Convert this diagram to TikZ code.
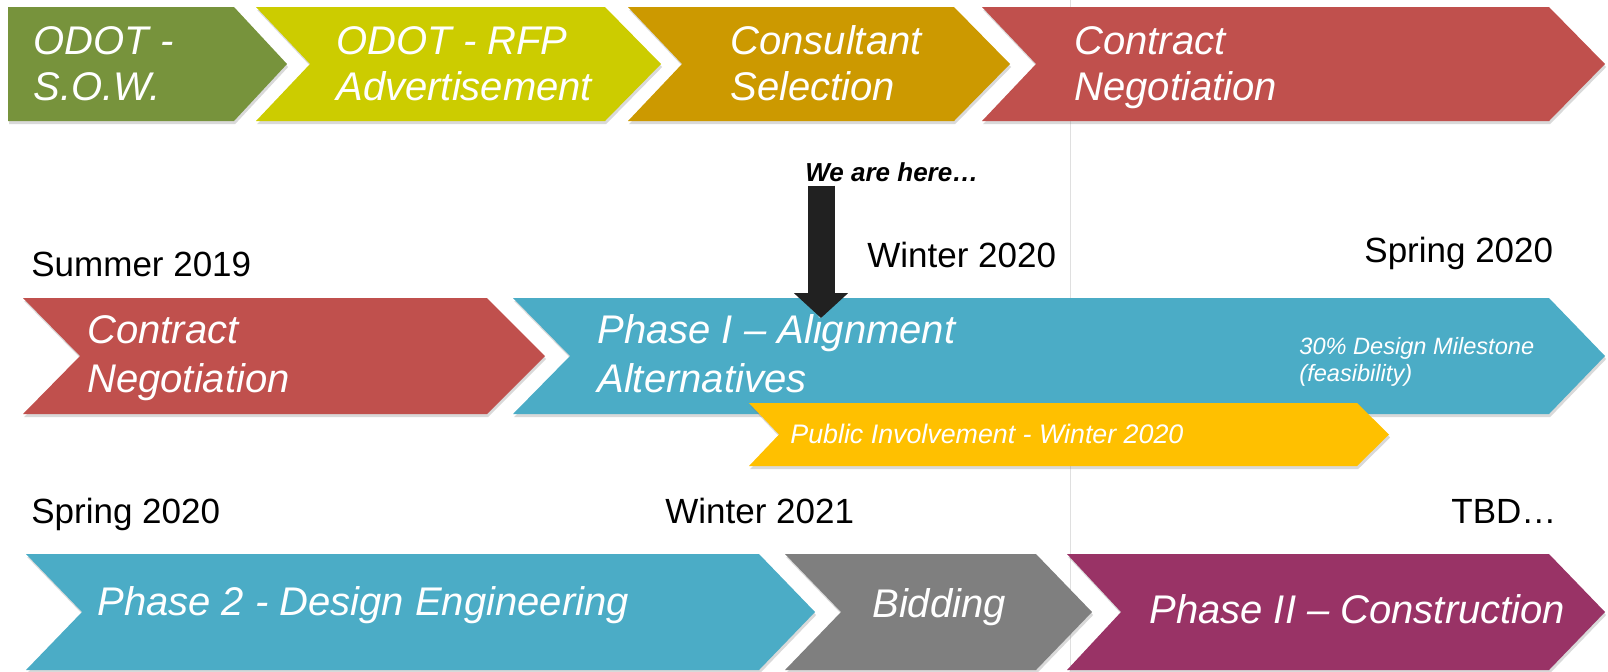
\documentclass[tikz,border=0pt]{standalone}
\usepackage{fontspec}
\setmainfont{Liberation Sans}
\usetikzlibrary{arrows.meta,shadows}

\definecolor{sowgreen}{HTML}{77933C}
\definecolor{rfplime}{HTML}{CCCC00}
\definecolor{selgold}{HTML}{CC9900}
\definecolor{negred}{HTML}{C0504D}
\definecolor{phaseblue}{HTML}{4BACC6}
\definecolor{pubyellow}{HTML}{FFC000}
\definecolor{bidgray}{HTML}{7F7F7F}
\definecolor{conpurple}{HTML}{993366}

\tikzset{
  chev/.style={drop shadow={shadow xshift=0.6pt,shadow yshift=-1.5pt,opacity=0.3}},
  big/.style={text=white,font=\fontsize{20}{24}\selectfont\itshape,anchor=base west,inner sep=0pt},
  small/.style={text=white,font=\fontsize{11.8}{14}\selectfont\itshape,anchor=base west,inner sep=0pt},
  datelbl/.style={font=\fontsize{17.5}{21}\selectfont,anchor=base west,inner sep=0pt}
}

\begin{document}
\begin{tikzpicture}[x=0.5pt,y=-0.5pt]
  \useasboundingbox (0,0) rectangle (1608,671);

  % thin guide line behind the chevrons
  \draw[gray!25, line width=0.5pt] (1070,0) -- (1070,671);

  % chevrons: left / notch / right / tip / top / bottom / colour
  \foreach \xl/\n/\xr/\d/\yt/\yb/\col in {
      8/0/234/53/7/121/sowgreen, 256/54/605/56/7/121/rfplime,
      628/54/954/56/7/121/selgold, 982/54/1549/56/7/121/negred,
      23/57/487/58/298/414/negred, 513/57/1549/56/298/414/phaseblue,
      749/30/1357/32/403/466/pubyellow,
      26/56/759/56/554/670/phaseblue, 785/56/1036/56/554/670/bidgray,
      1067/54/1549/56/554/670/conpurple} {
    \fill[chev, fill=\col] (\xl,\yt) -- (\xr,\yt) -- ({\xr+\d},{(\yt+\yb)/2})
      -- (\xr,\yb) -- (\xl,\yb) -- ({\xl+\n},{(\yt+\yb)/2}) -- cycle;
  }

  % top row
  \node[big] (sowa) at (33,54) {ODOT -};
  \node[big] (sowb) at (33,100) {S.O.W.};
  \node[big] (rfpa) at (336,54) {ODOT - RFP};
  \node[big] (rfpb) at (336,100) {Advertisement};
  \node[big] (sela) at (730,54) {Consultant};
  \node[big] (selb) at (730,100) {Selection};
  \node[big] (nega) at (1074,54) {Contract};
  \node[big] (negb) at (1074,100) {Negotiation};

  % middle row
  \node[datelbl] (summer) at (31,276) {Summer 2019};
  \node[datelbl] (winter) at (867,267) {Winter 2020};
  \node[datelbl] (spring) at (1364,262) {Spring 2020};
  \node[big] (contra) at (87,343) {Contract};
  \node[big] (contrb) at (87,392) {Negotiation};
  \node[big] (phasea) at (597,343) {Phase I – Alignment};
  \node[big] (phaseb) at (597,392) {Alternatives};
  \node[small] (milea) at (1299,354) {30\% Design Milestone};
  \node[small] (mileb) at (1299,381) {(feasibility)};
  \node[text=white,font=\fontsize{13.4}{16}\selectfont\itshape,anchor=base west,inner sep=0pt]
    (public) at (790,443) {Public Involvement - Winter 2020};

  % we are here
  \node[font=\fontsize{13}{16}\selectfont\bfseries\itshape,anchor=base west,
    inner xsep=0pt,inner ysep=2pt] (here) at (805,181) {We are here…};
  \coordinate (pin) at (821,318);
  \draw[black!87, line width=13.5pt, -{Triangle[width=26.5pt,length=12.5pt]}]
    (here.south -| pin) -- (pin);

  % bottom row
  \node[datelbl] (springb) at (31,523) {Spring 2020};
  \node[datelbl] (wintb) at (665,523) {Winter 2021};
  \node[datelbl] (tbd) at (1451,523) {TBD…};
  \node[big] (design) at (97,615) {Phase 2 - Design Engineering};
  \node[big] (bid) at (872,617) {Bidding};
  \node[big] (constr) at (1149,623) {Phase II – Construction};
\end{tikzpicture}
\end{document}
